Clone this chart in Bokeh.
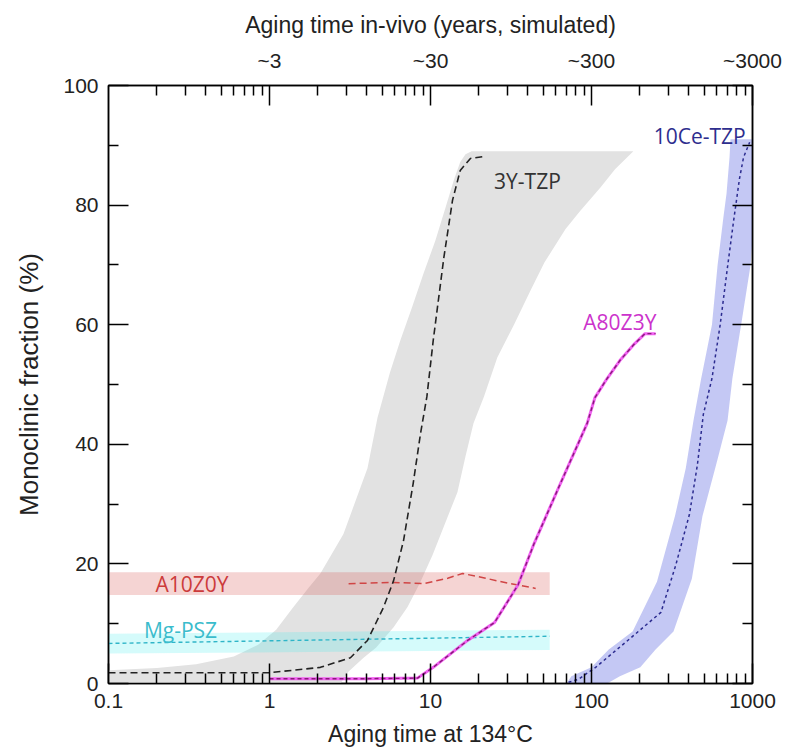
from bokeh.plotting import figure
from bokeh.models import Range1d, LogAxis, LinearAxis, FixedTicker, CustomLabelingPolicy
from bokeh.core.properties import value
from bokeh.embed import file_html
from bokeh.resources import INLINE

# ---------------- data ----------------
# 3Y-TZP scatter band (grey): left edge going up, right edge going down
grey_left_x = [0.1, 0.1, 0.2, 0.35, 0.6, 0.85, 1.1, 1.4, 1.75, 2.07, 2.88, 4.06, 4.69,
               5.6, 6.5, 7.7, 9.06, 10.7, 12.4, 14.0, 15.3, 16.5, 18.0]
grey_left_y = [0, 2.2, 2.6, 3.2, 4.5, 6.5, 9.0, 12.7, 16.0, 18.4, 25.0, 36.0, 44.5,
               52.0, 57.4, 63.0, 68.6, 74.0, 79.6, 84.3, 87.2, 88.5, 89.0]
grey_right_x = [182, 140, 114, 85, 69, 51, 41.8, 33, 26, 21.5, 18.5, 16.5, 14.7,
                12.0, 10.3, 8.6, 7.2, 5.9, 4.6, 3.84, 3.1, 2.76]
grey_right_y = [89.0, 86.0, 83.0, 79.0, 76.0, 70.4, 65.7, 60.0, 54.5, 48.0, 43.5, 38.0, 32.0,
                26.0, 21.5, 16.8, 12.8, 9.4, 6.0, 4.3, 2.0, 0]

# 3Y-TZP curve
tzp3_x = [0.1, 1.0, 2.07, 3.18, 4.06, 5.1, 5.9, 6.8, 7.8, 8.67, 9.5, 10.4, 12.1,
          13.7, 15.3, 17.7, 21.0]
tzp3_y = [1.8, 1.8, 2.7, 4.3, 7.2, 12.7, 17.2, 23.9, 33.4, 41.8, 48.0, 57.4, 71.2,
          80.8, 85.8, 87.8, 88.1]

# 10Ce-TZP band (blue) and curve
ce_left_x = [70, 75, 100, 128, 180, 255, 330, 385, 430, 480, 560, 607, 660, 690, 720, 730]
ce_left_y = [0, 1.2, 2.7, 5.7, 8.7, 17.0, 28.0, 36.0, 44.0, 51.0, 60.0, 70.0, 78.0, 82.0, 88.0, 91.0]
ce_right_x = [1100, 1050, 973, 850, 750, 700, 600, 489, 420, 323, 250, 201, 150, 125]
ce_right_y = [91.0, 82.0, 70.0, 60.0, 51.0, 44.0, 37.0, 28.0, 17.5, 8.7, 5.7, 2.7, 1.2, 0]
ce_x = [72, 83, 106, 163, 270, 333, 406, 455, 495, 560, 630, 700, 760, 830, 880, 960]
ce_y = [0.2, 0.7, 2.7, 6.9, 11.9, 19.7, 28.3, 36.6, 45.0, 51.0, 60.0, 69.7, 77.0, 84.4, 88.0, 90.5]

# A80Z3Y curve
a80_x = [1.0, 2.0, 4.0, 8.3, 10.4, 17, 25, 35, 44, 64, 94, 105, 125, 150, 185, 215, 250]
a80_y = [0.8, 0.8, 0.8, 0.9, 2.7, 7.2, 10.2, 16.5, 23.4, 33.4, 43.5, 47.8, 51.0, 54.0, 56.8, 58.5, 58.5]

# A10Z0Y band and curve
a10_band_x = [0.1, 55]
a10_band_lo = [14.8, 14.8]
a10_band_hi = [18.6, 18.6]
a10_x = [3.1, 5.9, 9.06, 12.8, 15.8, 22, 30, 36, 45]
a10_y = [16.7, 16.9, 16.7, 17.6, 18.4, 17.6, 16.8, 16.4, 15.9]

# Mg-PSZ band and curve
mg_band_x = [0.1, 55]
mg_band_lo = [5.0, 5.6]
mg_band_hi = [8.3, 9.0]
mg_x = [0.1, 55]
mg_y = [6.7, 7.9]

# labels
label_text = ["3Y-TZP", "10Ce-TZP", "A80Z3Y", "A10Z0Y", "Mg-PSZ"]
label_x = [40, 470, 150, 0.33, 0.28]
label_y = [84.0, 91.6, 60.4, 16.6, 9.0]

x_major = [0.1, 1, 10, 100, 1000]
x_labels = ["0.1", "1", "10", "100", "1000"]
top_major = [1, 10, 100, 1000]
top_labels = ["~3", "~30", "~300", "~3000"]
y_major = [0, 20, 40, 60, 80, 100]
y_minor = [10, 30, 50, 70, 90]

# ---------------- figure ----------------
TICK_FONT = "Liberation Sans"
p = figure(width=792, height=756, x_axis_type="log",
           x_range=Range1d(0.1, 1000), y_range=Range1d(0, 100),
           output_backend="svg", toolbar_location=None,
           min_border_left=108, min_border_right=40,
           min_border_top=85, min_border_bottom=73)
p.xgrid.visible = False
p.ygrid.visible = False
p.outline_line_color = "black"
p.outline_line_width = 1.5
p.background_fill_color = "white"
p.border_fill_color = "white"

# bands
p.patch(grey_left_x + grey_right_x, grey_left_y + grey_right_y,
        fill_color="#e2e2e2", line_color=None)
p.varea(x=a10_band_x, y1=a10_band_lo, y2=a10_band_hi,
        fill_color="#d9534f", fill_alpha=0.25)
p.varea(x=mg_band_x, y1=mg_band_lo, y2=mg_band_hi,
        fill_color="#40eeee", fill_alpha=0.22)
p.patch(ce_left_x + ce_right_x, ce_left_y + ce_right_y,
        fill_color="#5560e0", fill_alpha=0.35, line_color=None)

# curves
p.line(mg_x, mg_y, line_color="#2fb5c8", line_width=1.4, line_dash="4 3")
p.line(a10_x, a10_y, line_color="#d04545", line_width=1.5, line_dash="7 4")
p.line(tzp3_x, tzp3_y, line_color="#222222", line_width=1.6, line_dash="7 4")
p.line(a80_x, a80_y, line_color="#f060f0", line_width=3)
p.line(a80_x, a80_y, line_color="#8a1a7a", line_width=1.4, line_dash="4 3")
p.line(ce_x, ce_y, line_color="#2b2b8f", line_width=1.5, line_dash="3 3")

# labels
label_colors = ["#333333", "#2e2e8e", "#cc33cc", "#cc3b3b", "#3bbccc"]
for t, lx, ly, c in zip(label_text, label_x, label_y, label_colors):
    p.text(x=[lx], y=[ly], text=[t], text_font=value("Open Sans"),
           text_font_size=value("21px"), text_color=c,
           text_align="center", text_baseline="middle")

# axes
x_minor = [m * 10.0 ** e for e in range(-1, 3) for m in range(2, 10)]


def style_axis(ax):
    ax.axis_line_color = "black"
    ax.axis_line_width = 1.5
    ax.major_tick_in = 20
    ax.major_tick_out = 0
    ax.minor_tick_in = 10
    ax.minor_tick_out = 0
    ax.major_tick_line_width = 1.5
    ax.minor_tick_line_width = 1.5
    ax.major_tick_line_color = "black"
    ax.minor_tick_line_color = "black"
    ax.major_label_text_font = TICK_FONT
    ax.major_label_text_font_size = "21px"
    ax.major_label_text_color = "#222222"
    ax.axis_label_text_font = TICK_FONT
    ax.axis_label_text_font_size = "23px"
    ax.axis_label_text_font_style = "normal"
    ax.axis_label_text_color = "#222222"


xb = p.xaxis[0]
xb.ticker = FixedTicker(ticks=x_major, minor_ticks=x_minor)
xb.major_label_overrides = dict(zip(x_major, x_labels))
xb.axis_label = "Aging time at 134\u00b0C"
style_axis(xb)
xb.major_label_standoff = 10
xb.axis_label_standoff = 10

yl = p.yaxis[0]
yl.ticker = FixedTicker(ticks=y_major, minor_ticks=y_minor)
yl.axis_label = "Monoclinic fraction (%)"
style_axis(yl)
yl.axis_label_text_font_size = "26px"
yl.major_label_standoff = 10
yl.axis_label_standoff = 16

xt = LogAxis(ticker=FixedTicker(ticks=top_major, minor_ticks=x_minor),
             axis_label="Aging time in-vivo (years, simulated)")
xt.major_label_overrides = dict(zip(top_major, top_labels))
style_axis(xt)
xt.major_label_standoff = 14
xt.axis_label_standoff = 8
p.add_layout(xt, "above")

yr = LinearAxis(ticker=FixedTicker(ticks=y_major, minor_ticks=y_minor),
                major_label_policy=CustomLabelingPolicy(code="return []"))
style_axis(yr)
yr.major_label_standoff = 0
p.add_layout(yr, "right")

open("out.html", "w").write(file_html(p, INLINE))
